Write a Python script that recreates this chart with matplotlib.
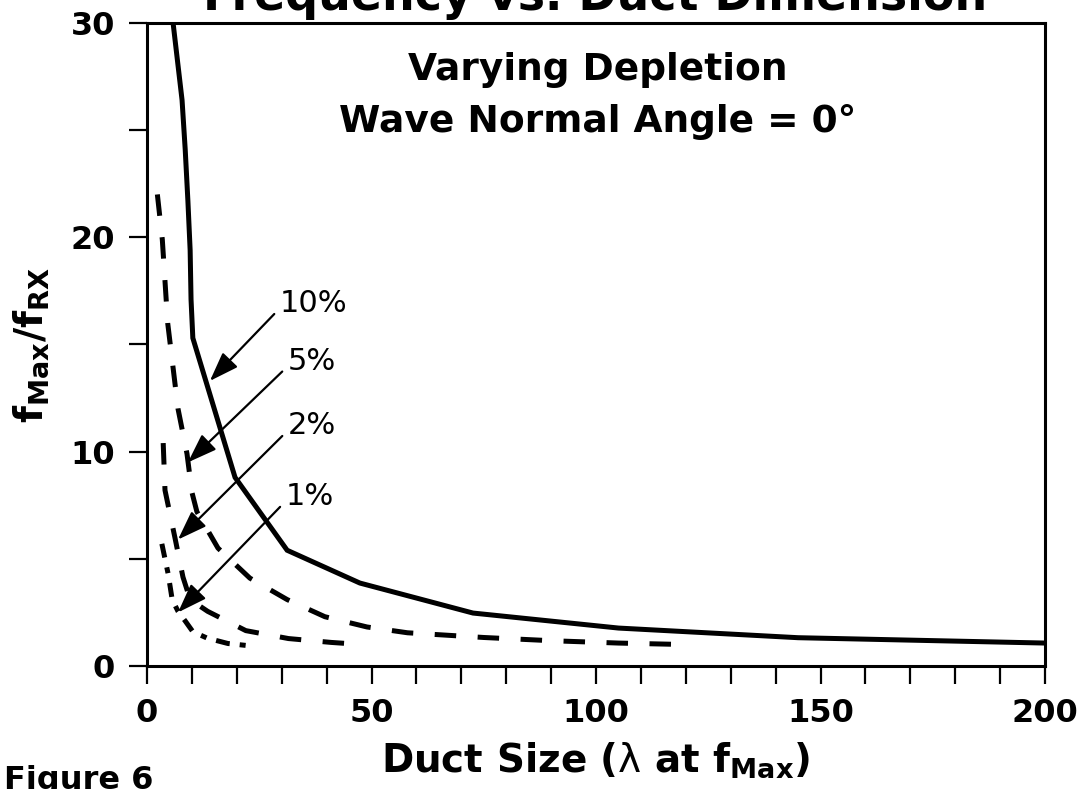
import numpy as np
import matplotlib
matplotlib.use("Agg")
import matplotlib.pyplot as plt

# ---- duct size (wavelengths at fMax) vs fMax/fRX for each depletion ----
size_10 = [5.8, 7.8, 8.5, 9.1, 9.6, 9.8, 10.2, 19.6, 31.2, 47.4, 72.6, 105, 145, 200]
ratio_10 = [30.0, 26.4, 24.1, 21.7, 19.4, 17.1, 15.3, 8.8, 5.4, 3.87, 2.47, 1.77, 1.32, 1.07]

size_5 = [2.3, 3.4, 4.6, 6.9, 8.9, 10.0, 11.1, 15.8, 22.9, 31.2, 39.6, 49, 58, 75, 90, 105, 120]
ratio_5 = [22.0, 19.9, 16.0, 12.0, 9.9, 8.1, 7.2, 5.5, 4.1, 3.1, 2.3, 1.82, 1.55, 1.33, 1.18, 1.07, 1.0]

size_2 = [3.6, 4.0, 6.2, 8.0, 9.6, 13.5, 22, 31.5, 41, 48]
ratio_2 = [10.4, 8.2, 6.0, 4.15, 3.1, 2.55, 1.65, 1.28, 1.1, 1.0]

size_1 = [3.3, 4.7, 5.6, 6.9, 8.5, 10.2, 13.4, 18.0, 22.5]
ratio_1 = [5.7, 4.3, 3.1, 2.55, 2.1, 1.6, 1.3, 1.05, 0.95]

# label text, arrow tip, text anchor
labels = ["10%", "5%", "2%", "1%"]
tips = [(14.0, 13.3), (9.1, 9.5), (6.9, 5.9), (6.9, 2.5)]
label_pos = [(29.6, 16.9), (31.4, 14.2), (31.4, 11.2), (30.9, 7.9)]

plt.rcParams["font.family"] = "DejaVu Sans"
plt.rcParams["mathtext.fontset"] = "dejavusans"
plt.rcParams["mathtext.default"] = "bf"

fig = plt.figure(figsize=(10.78, 7.89), dpi=100)
ax = fig.add_axes([0.1364, 0.1559, 0.8330, 0.8150])

LW = 3.6
ax.plot(size_10, ratio_10, color="k", lw=LW, solid_joinstyle="miter")
ax.plot(size_5, ratio_5, color="k", lw=LW, linestyle=(0, (4.3, 4.3)))
ax.plot(size_2, ratio_2, color="k", lw=LW, linestyle=(0, (4.3, 4.3)))
ax.plot(size_1, ratio_1, color="k", lw=LW, linestyle=(0, (2.8, 2.0, 1.2, 2.0)))

for txt, tip, pos in zip(labels, tips, label_pos):
    ax.annotate(txt, xy=tip, xytext=pos, ha="left", va="center",
                fontsize=22,
                arrowprops=dict(arrowstyle="-|>,head_length=0.9,head_width=0.32",
                                color="k", lw=1.6, mutation_scale=20,
                                shrinkA=3, shrinkB=0, relpos=(0, 0.35)))

ax.text(0.502, 0.927, "Varying Depletion", transform=ax.transAxes,
        ha="center", va="center", fontsize=27, fontweight="bold")
ax.text(0.502, 0.846, "Wave Normal Angle = 0°", transform=ax.transAxes,
        ha="center", va="center", fontsize=27, fontweight="bold")

ax.set_xlim(0, 200)
ax.set_ylim(0, 30)
ax.set_xticks(np.arange(0, 201, 50))
ax.set_xticks(np.arange(0, 201, 10), minor=True)
ax.set_yticks([0, 10, 20, 30])
ax.set_yticks(np.arange(0, 31, 5), minor=True)
ax.tick_params(which="both", direction="out", length=13, width=1.6,
               top=False, right=False, labelsize=23, pad=10)
for lab in ax.get_xticklabels() + ax.get_yticklabels():
    lab.set_fontweight("bold")
for sp in ax.spines.values():
    sp.set_linewidth(2.2)

ax.set_xlabel(r"Duct Size ($\mathrm{\lambda}$ at f$_{Max}$)", fontsize=28,
              fontweight="bold", labelpad=8)
ax.set_ylabel(r"f$_{Max}$/f$_{RX}$", fontsize=28, fontweight="bold", labelpad=14)

fig.text(0.552, 1 - 10 / 789, "Frequency vs. Duct Dimension", ha="center",
         va="baseline", fontsize=33, fontweight="bold")
fig.text(0.004, 1 - 765 / 789, "Figure 6", ha="left", va="top",
         fontsize=23, fontweight="bold")

fig.savefig("out.png", dpi=100)
